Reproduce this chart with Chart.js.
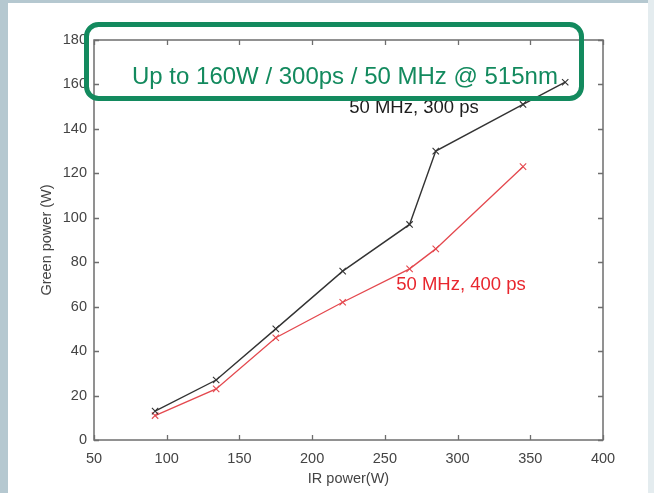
<!DOCTYPE html>
<html><head><meta charset="utf-8">
<script src="https://cdn.jsdelivr.net/npm/chart.js@4"></script>
<style>
html,body{margin:0;padding:0;background:#fff;overflow:hidden}
#wrap{position:relative;width:654px;height:493px}
canvas{display:block}
</style></head>
<body><div id="wrap"><canvas id="c" width="654" height="493"></canvas></div>
<script>
const irPower300 = [92, 134, 175, 221, 267, 285, 345, 374];
const green300   = [13, 27, 50, 76, 97, 130, 151, 161];
const irPower400 = [92, 134, 175, 221, 267, 285, 345];
const green400   = [11, 23, 46, 62, 77, 86, 123];
const xTicks = [50, 100, 150, 200, 250, 300, 350, 400];
const yTicks = [0, 20, 40, 60, 80, 100, 120, 140, 160, 180];
const label300 = '50 MHz, 300 ps';
const label400 = '50 MHz, 400 ps';
const headline = 'Up to 160W / 300ps / 50 MHz @ 515nm';
const xTitle = 'IR power(W)';
const yTitle = 'Green power (W)';

const FONT = '"Liberation Sans", Arial, Helvetica, sans-serif';
const AXIS = '#6e6e6e';
const TXT = '#444444';

const pts = (xs, ys) => xs.map((x, i) => ({x, y: ys[i]}));

const framePlugin = {
  id: 'frame',
  beforeDraw(chart) {
    const ctx = chart.ctx;
    ctx.save();
    ctx.fillStyle = '#ffffff';
    ctx.fillRect(0, 0, chart.width, chart.height);
    ctx.fillStyle = '#b5c8d0';
    ctx.fillRect(0, 0, 8, chart.height);
    ctx.fillRect(0, 0, chart.width, 3);
    ctx.fillStyle = '#e4ecef';
    ctx.fillRect(chart.width - 6, 0, 6, chart.height);
    ctx.restore();
  },
  beforeDatasetsDraw(chart) {
    const {ctx, chartArea: a, scales: {x, y}} = chart;
    ctx.save();
    ctx.strokeStyle = AXIS;
    ctx.lineWidth = 1.5;
    ctx.strokeRect(a.left, a.top, a.right - a.left, a.bottom - a.top);
    const tl = 5;
    ctx.lineWidth = 1.3;
    ctx.beginPath();
    xTicks.forEach(v => {
      const px = Math.round(x.getPixelForValue(v)) + 0.5;
      ctx.moveTo(px, a.bottom); ctx.lineTo(px, a.bottom - tl);
      ctx.moveTo(px, a.top); ctx.lineTo(px, a.top + tl);
    });
    yTicks.forEach(v => {
      const py = Math.round(y.getPixelForValue(v)) + 0.5;
      ctx.moveTo(a.left, py); ctx.lineTo(a.left + tl, py);
      ctx.moveTo(a.right, py); ctx.lineTo(a.right - tl, py);
    });
    ctx.stroke();
    ctx.restore();
  },
  afterDraw(chart) {
    const {ctx, scales: {x, y}} = chart;
    ctx.save();
    ctx.font = '18.5px ' + FONT;
    ctx.textBaseline = 'alphabetic';
    ctx.textAlign = 'left';
    ctx.fillStyle = '#1e1e1e';
    ctx.fillText(label300, x.getPixelForValue(225.5), y.getPixelForValue(147.3));
    ctx.fillStyle = '#e8262e';
    ctx.fillText(label400, x.getPixelForValue(257.8), y.getPixelForValue(67.5));
    // green highlight box
    ctx.strokeStyle = '#138a5e';
    ctx.lineWidth = 5;
    ctx.beginPath();
    ctx.roundRect(86.5, 24.5, 495, 74, 12);
    ctx.stroke();
    ctx.fillStyle = '#138a5e';
    ctx.font = '24px ' + FONT;
    ctx.fillText(headline, 132, 83.5);
    ctx.restore();
  }
};

new Chart(document.getElementById('c'), {
  type: 'line',
  data: {
    datasets: [
      {
        data: pts(irPower300, green300),
        borderColor: '#333333',
        backgroundColor: '#333333',
        borderWidth: 1.4,
        pointStyle: 'crossRot',
        pointRadius: 4.5,
        pointBorderWidth: 1.1,
        tension: 0
      },
      {
        data: pts(irPower400, green400),
        borderColor: '#e4484e',
        backgroundColor: '#e4484e',
        borderWidth: 1.3,
        pointStyle: 'crossRot',
        pointRadius: 4.5,
        pointBorderWidth: 1.1,
        tension: 0
      }
    ]
  },
  options: {
    responsive: false,
    animation: false,
    devicePixelRatio: 1,
    layout: {padding: {top: 40, right: 51, bottom: 0, left: 0}},
    plugins: {legend: {display: false}, tooltip: {enabled: false}},
    scales: {
      x: {
        type: 'linear', min: 50, max: 400,
        afterBuildTicks: s => { s.ticks = xTicks.map(v => ({value: v})); },
        afterFit: s => { s.height = 53; },
        grid: {display: false, drawTicks: false},
        border: {display: false},
        ticks: {color: TXT, font: {family: FONT, size: 14.5}, padding: 10, maxRotation: 0, autoSkip: false},
        title: {display: true, text: xTitle, color: TXT, font: {family: FONT, size: 14.5}, padding: {top: 0, bottom: 5}}
      },
      y: {
        type: 'linear', min: 0, max: 180,
        afterBuildTicks: s => { s.ticks = yTicks.map(v => ({value: v})); },
        afterFit: s => { s.width = 94; },
        grid: {display: false, drawTicks: false},
        border: {display: false},
        ticks: {color: TXT, font: {family: FONT, size: 14.5}, padding: 7, autoSkip: false},
        title: {display: true, text: yTitle, color: TXT, font: {family: FONT, size: 14.5}, padding: {top: 38, bottom: 0}}
      }
    }
  },
  plugins: [framePlugin]
});
</script>
</body></html>
